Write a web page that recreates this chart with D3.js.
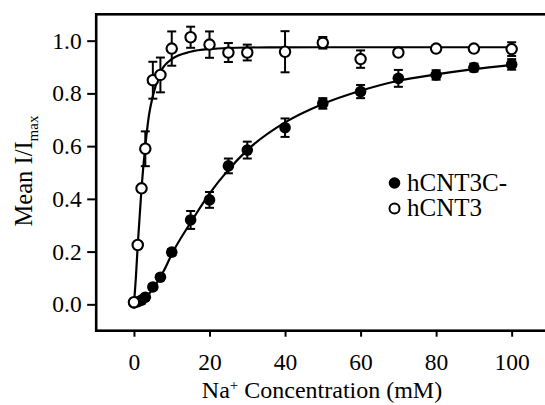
<!DOCTYPE html>
<html>
<head>
<meta charset="utf-8">
<script src="https://d3js.org/d3.v7.min.js"></script>
<style>
  body { margin: 0; background: #fff; }
  svg { display: block; }
</style>
</head>
<body>
<div id="chart"></div>
<script>
// Na+ concentrations (mM)
var conc = [0, 1, 2, 3, 5, 7, 10, 15, 20, 25, 30, 40, 50, 60, 70, 80, 90, 100];

// hCNT3C- (filled)
var mutMean = [0.005, 0.01, 0.016, 0.027, 0.066, 0.103, 0.198, 0.32, 0.396, 0.525, 0.585, 0.67, 0.762, 0.807, 0.857, 0.87, 0.898, 0.91];
var mutErr  = [0.005, 0.005, 0.005, 0.01, 0.01, 0.01, 0.012, 0.034, 0.03, 0.028, 0.032, 0.035, 0.02, 0.025, 0.032, 0.018, 0.015, 0.02];

// hCNT3 (open)
var wtMean = [0.008, 0.225, 0.44, 0.59, 0.85, 0.87, 0.97, 1.013, 0.985, 0.955, 0.955, 0.958, 0.992, 0.93, 0.955, 0.97, 0.97, 0.968];
var wtErr  = [0, 0.01, 0.01, 0.066, 0.07, 0.066, 0.065, 0.04, 0.05, 0.036, 0.03, 0.078, 0.022, 0.033, 0.01, 0.01, 0.01, 0.026];

// fitted curves
var mutFitX = [0, 2, 4, 6, 8, 10, 15, 20, 25, 30, 40, 50, 60, 70, 80, 90, 100];
var mutFitY = [0, 0.012, 0.04, 0.08, 0.13, 0.19, 0.31, 0.42, 0.51, 0.585, 0.69, 0.76, 0.81, 0.848, 0.872, 0.892, 0.908];
var wtFitX = [0, 0.5, 1, 2, 3, 4, 5, 7, 10, 15, 20, 30, 50, 100];
var wtFitY = [0, 0.1, 0.225, 0.44, 0.6, 0.72, 0.79, 0.88, 0.93, 0.958, 0.968, 0.974, 0.975, 0.975];

var xTicks = [0, 20, 40, 60, 80, 100];
var yTicks = [0, 0.2, 0.4, 0.6, 0.8, 1.0];

var legendNames = ["hCNT3C-", "hCNT3"];

var W = 545, H = 405;
var margin = { top: 14.3, left: 96.2 };
var serif = "'Liberation Serif'";

var x = d3.scaleLinear().domain([-10, 120]).range([margin.left, margin.left + 491]);
var y = d3.scaleLinear().domain([-0.1, 1.1]).range([330.7, margin.top]);

var svg = d3.select("#chart").append("svg")
  .attr("width", W)
  .attr("height", H);

// axes
var xAxis = d3.axisBottom(x).tickValues(xTicks).tickSize(6).tickPadding(17)
  .tickFormat(d3.format("d"));
var yAxis = d3.axisLeft(y).tickValues(yTicks).tickSize(9).tickPadding(5.5)
  .tickFormat(d3.format(".1f"));

var gx = svg.append("g")
  .attr("transform", "translate(0," + y(-0.1) + ")")
  .call(xAxis);
var gy = svg.append("g")
  .attr("transform", "translate(" + x(-10) + ",0)")
  .call(yAxis);

[gx, gy].forEach(function (g) {
  g.select(".domain").remove();
  g.selectAll(".tick line").attr("stroke", "#000").attr("stroke-width", 2);
  g.selectAll(".tick text").attr("fill", "#000")
    .style("font-family", serif).style("font-size", "23.5px");
});

// frame
svg.append("rect")
  .attr("x", x(-10))
  .attr("y", y(1.1))
  .attr("width", x(120) - x(-10))
  .attr("height", y(-0.1) - y(1.1))
  .attr("fill", "none")
  .attr("stroke", "#000")
  .attr("stroke-width", 2.6);

// axis titles
var xt = svg.append("text")
  .attr("x", 322)
  .attr("y", 397.5)
  .attr("text-anchor", "middle")
  .style("font-family", serif)
  .style("font-size", "24px");
xt.append("tspan").text("Na");
xt.append("tspan").attr("dy", -8).style("font-size", "15px").text("+");
xt.append("tspan").attr("dy", 8).text(" Concentration (mM)");

var yt = svg.append("text")
  .attr("transform", "translate(32,171) rotate(-90)")
  .attr("text-anchor", "middle")
  .style("font-family", serif)
  .style("font-size", "24.5px");
yt.append("tspan").text("Mean I/I");
yt.append("tspan").attr("dy", 6).style("font-size", "15px").text("max");

// fitted curves
var line = d3.line()
  .x(function (d) { return x(d[0]); })
  .y(function (d) { return y(d[1]); })
  .curve(d3.curveMonotoneX);

svg.append("path")
  .datum(d3.zip(mutFitX, mutFitY))
  .attr("d", line)
  .attr("fill", "none").attr("stroke", "#000").attr("stroke-width", 2.2);
svg.append("path")
  .datum(d3.zip(wtFitX, wtFitY))
  .attr("d", line)
  .attr("fill", "none").attr("stroke", "#000").attr("stroke-width", 2.2);

// error bars + points
function series(means, errs, filled) {
  var data = conc.map(function (c, i) { return { c: c, m: means[i], e: errs[i] }; });
  var g = svg.append("g");
  var eb = g.selectAll("g.eb").data(data.filter(function (d) { return d.e > 0; }))
    .enter().append("g").attr("class", "eb")
    .attr("stroke", "#000").attr("stroke-width", 2);
  eb.append("line")
    .attr("x1", function (d) { return x(d.c); })
    .attr("x2", function (d) { return x(d.c); })
    .attr("y1", function (d) { return y(d.m - d.e); })
    .attr("y2", function (d) { return y(d.m + d.e); });
  [-1, 1].forEach(function (s) {
    eb.append("line")
      .attr("x1", function (d) { return x(d.c) - 4.5; })
      .attr("x2", function (d) { return x(d.c) + 4.5; })
      .attr("y1", function (d) { return y(d.m + s * d.e); })
      .attr("y2", function (d) { return y(d.m + s * d.e); });
  });
  g.selectAll("circle").data(data)
    .enter().append("circle")
    .attr("cx", function (d) { return x(d.c); })
    .attr("cy", function (d) { return y(d.m); })
    .attr("r", filled ? 5.8 : 5.2)
    .attr("fill", filled ? "#000" : "#fff")
    .attr("stroke", "#000")
    .attr("stroke-width", filled ? 0 : 2.1);
}
series(mutMean, mutErr, true);
series(wtMean, wtErr, false);

// legend
var legend = svg.append("g").attr("transform", "translate(394.5,183)");
legend.selectAll("circle").data(legendNames)
  .enter().append("circle")
  .attr("cx", 0)
  .attr("cy", function (d, i) { return i * 25.5; })
  .attr("r", function (d, i) { return i === 0 ? 5.8 : 5; })
  .attr("fill", function (d, i) { return i === 0 ? "#000" : "#fff"; })
  .attr("stroke", "#000")
  .attr("stroke-width", function (d, i) { return i === 0 ? 0 : 2; });
legend.selectAll("text").data(legendNames)
  .enter().append("text")
  .attr("x", 12.5)
  .attr("y", function (d, i) { return 7.5 + i * 25.5; })
  .style("font-family", serif)
  .style("font-size", "25px")
  .text(function (d) { return d; });
</script>
</body>
</html>
